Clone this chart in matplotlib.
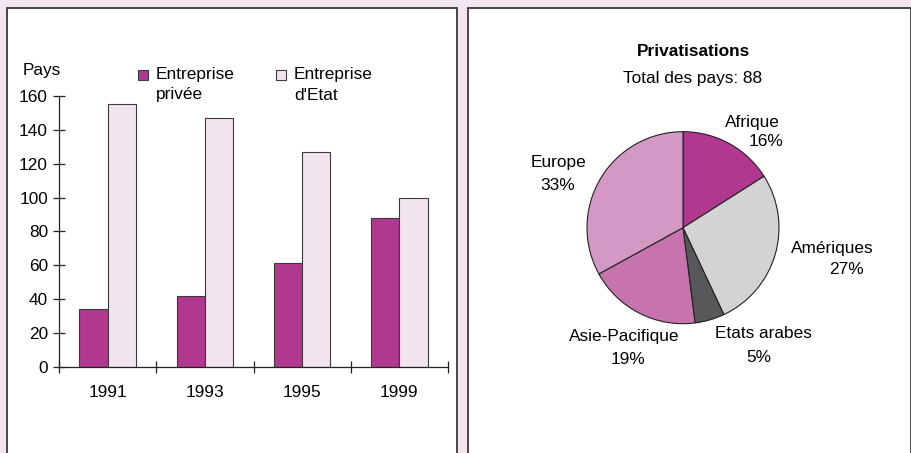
import matplotlib
matplotlib.use("Agg")
import matplotlib.pyplot as plt
from matplotlib.patches import Rectangle
import numpy as np

plt.rcParams['font.family'] = ['Liberation Sans', 'DejaVu Sans']
FS = 12.4

years = ["1991", "1993", "1995", "1999"]
privee = [34, 42, 61, 88]
etat = [155, 147, 127, 100]
series_labels = ["Entreprise\nprivée", "Entreprise\nd'Etat"]
series_colors = ["#B0388F", "#F2E4EF"]
yticks = [0, 20, 40, 60, 80, 100, 120, 140, 160]

regions = ["Afrique", "Amériques", "Etats arabes", "Asie-Pacifique", "Europe"]
shares = [16, 27, 5, 19, 33]
pie_colors = ["#B0388F", "#D3D3D5", "#58585A", "#C673AE", "#D399C4"]

W, H = 911, 453
fig = plt.figure(figsize=(W / 100, H / 100), dpi=100)
fig.patch.set_facecolor("#F3E5F0")

def fx(px):
    return px / W

def fy(py):
    return 1 - py / H

# panels
for (x0, x1) in [(7, 457.5), (468, 910.5)]:
    fig.patches.append(Rectangle((fx(x0), fy(460)), fx(x1 - x0), (460 - 8) / H,
                                 transform=fig.transFigure, facecolor="white",
                                 edgecolor="#3A3A3C", linewidth=1.3, zorder=-10))

# bar chart
ax = fig.add_axes([fx(59), fy(366.7), fx(448 - 59), (366.7 - 96) / H])
ax.set_facecolor("none")
x = np.arange(len(years))
w = 0.29
ax.bar(x - w / 2, privee, w, color=series_colors[0], edgecolor="#3A3A3A", linewidth=0.8)
ax.bar(x + w / 2, etat, w, color=series_colors[1], edgecolor="#3A3A3A", linewidth=0.8)
ax.set_xlim(-0.5, 3.5)
ax.set_ylim(0, 160)
ax.set_yticks(yticks)
ax.set_yticklabels([str(v) for v in yticks], fontsize=FS)
ax.set_xticks([-0.5, 0.5, 1.5, 2.5, 3.5])
ax.set_xticklabels([])
ax.set_xticks(x, minor=True)
ax.set_xticklabels(years, minor=True, fontsize=FS)
ax.tick_params(axis="x", which="minor", length=0, pad=13)
ax.tick_params(axis="x", which="major", direction="inout", length=8, width=0.9, color="#222222")
ax.tick_params(axis="y", direction="inout", length=8, width=0.9, color="#222222", pad=4)
for s in ["top", "right"]:
    ax.spines[s].set_visible(False)
for s in ["left", "bottom"]:
    ax.spines[s].set_linewidth(0.9)
    ax.spines[s].set_color("#222222")

fig.text(fx(23), fy(71), "Pays", fontsize=FS, va="center", ha="left")

# legend (drawn manually to place handle beside first text line)
for (hx, tx), lab, col in zip([(137.5, 156), (275.5, 294)], series_labels, series_colors):
    fig.patches.append(Rectangle((fx(hx), fy(79.5)), fx(10), 9.5 / H,
                                 transform=fig.transFigure, facecolor=col,
                                 edgecolor="#3A3A3A", linewidth=0.8))
    l1, l2 = lab.split("\n")
    fig.text(fx(tx), fy(74), l1, fontsize=FS, ha="left", va="center")
    fig.text(fx(tx), fy(95), l2, fontsize=FS, ha="left", va="center")

# pie chart
r = 96
cx, cy = 683, 227.7
pax = fig.add_axes([fx(cx - r), fy(cy + r), fx(2 * r), 2 * r / H])
pax.pie(shares, colors=pie_colors, startangle=90, counterclock=False,
        wedgeprops=dict(edgecolor="#222222", linewidth=0.8))
pax.set_aspect("equal")
pax.set_xlim(-1, 1)
pax.set_ylim(-1, 1)

label_pos = [(752, 122), (832, 249), (763, 333), (624, 336), (559, 163)]
pct_pos = [(766, 142), (846, 270), (759, 357), (628, 360), (558, 186)]
for name, v, (lx, ly), (px, py) in zip(regions, shares, label_pos, pct_pos):
    fig.text(fx(lx), fy(ly), name, fontsize=FS, ha="center", va="center")
    fig.text(fx(px), fy(py), f"{v}%", fontsize=FS, ha="center", va="center")

fig.text(fx(693), fy(52), "Privatisations", fontsize=FS, fontweight="bold",
         ha="center", va="center")
fig.text(fx(693), fy(78), "Total des pays: 88", fontsize=FS, ha="center", va="center")

fig.savefig("out.png", dpi=100, facecolor=fig.get_facecolor())
